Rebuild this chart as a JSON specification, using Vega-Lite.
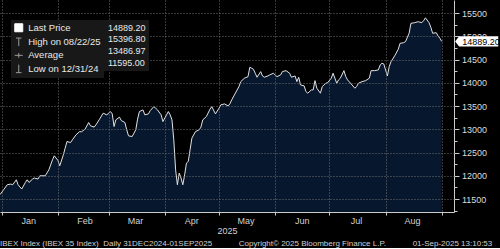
{
  "$schema": "https://vega.github.io/schema/vega-lite/v6.json",
  "width": 454,
  "height": 212,
  "padding": 0,
  "background": "#000000",
  "config": {
    "view": {"stroke": null},
    "font": "Liberation Sans",
    "axis": {"labelFont": "Liberation Sans", "titleFont": "Liberation Sans"},
    "legend": {"labelFont": "Liberation Sans"}
  },
  "title": {
    "text": "\u00a0IBEX Index (IBEX 35 Index)\u00a0\u00a0Daily 31DEC2024-01SEP2025\u00a0\u00a0\u00a0\u00a0\u00a0\u00a0\u00a0\u00a0\u00a0\u00a0\u00a0\u00a0Copyright\u00a9 2025 Bloomberg Finance L.P.\u00a0\u00a0\u00a0\u00a0\u00a0\u00a0\u00a0\u00a0\u00a0\u00a0\u00a0\u00a001-Sep-2025 13:10:53",
    "orient": "bottom",
    "anchor": "start",
    "frame": "bounds",
    "font": "Liberation Sans",
    "fontSize": 8,
    "fontWeight": "normal",
    "color": "#d0d0d0",
    "offset": 5
  },
  "data": {
    "values": [
      {"date": "2024-12-31", "close": 11595},
      {"date": "2025-01-02", "close": 11700},
      {"date": "2025-01-04", "close": 11807},
      {"date": "2025-01-06", "close": 11822},
      {"date": "2025-01-07", "close": 11807},
      {"date": "2025-01-09", "close": 11914},
      {"date": "2025-01-10", "close": 11807},
      {"date": "2025-01-12", "close": 11715},
      {"date": "2025-01-14", "close": 11856},
      {"date": "2025-01-15", "close": 11914},
      {"date": "2025-01-16", "close": 11856},
      {"date": "2025-01-18", "close": 11929},
      {"date": "2025-01-19", "close": 11951},
      {"date": "2025-01-21", "close": 11929},
      {"date": "2025-01-22", "close": 12000},
      {"date": "2025-01-25", "close": 12000},
      {"date": "2025-01-27", "close": 12129},
      {"date": "2025-01-29", "close": 12344},
      {"date": "2025-01-30", "close": 12430},
      {"date": "2025-02-01", "close": 12329},
      {"date": "2025-02-02", "close": 12215},
      {"date": "2025-02-04", "close": 12451},
      {"date": "2025-02-05", "close": 12595},
      {"date": "2025-02-06", "close": 12737},
      {"date": "2025-02-08", "close": 12715},
      {"date": "2025-02-09", "close": 12773},
      {"date": "2025-02-11", "close": 12881},
      {"date": "2025-02-13", "close": 12951},
      {"date": "2025-02-14", "close": 12945},
      {"date": "2025-02-16", "close": 13003},
      {"date": "2025-02-18", "close": 13145},
      {"date": "2025-02-19", "close": 13074},
      {"date": "2025-02-21", "close": 13046},
      {"date": "2025-02-22", "close": 13095},
      {"date": "2025-02-24", "close": 13218},
      {"date": "2025-02-26", "close": 13346},
      {"date": "2025-02-28", "close": 13310},
      {"date": "2025-03-02", "close": 13381},
      {"date": "2025-03-03", "close": 13331},
      {"date": "2025-03-04", "close": 13059},
      {"date": "2025-03-05", "close": 13203},
      {"date": "2025-03-07", "close": 13261},
      {"date": "2025-03-08", "close": 13188},
      {"date": "2025-03-10", "close": 13145},
      {"date": "2025-03-11", "close": 12988},
      {"date": "2025-03-12", "close": 12859},
      {"date": "2025-03-14", "close": 12844},
      {"date": "2025-03-16", "close": 12988},
      {"date": "2025-03-17", "close": 13218},
      {"date": "2025-03-18", "close": 13381},
      {"date": "2025-03-20", "close": 13417},
      {"date": "2025-03-21", "close": 13310},
      {"date": "2025-03-23", "close": 13331},
      {"date": "2025-03-24", "close": 13402},
      {"date": "2025-03-26", "close": 13488},
      {"date": "2025-03-27", "close": 13454},
      {"date": "2025-03-28", "close": 13417},
      {"date": "2025-03-30", "close": 13310},
      {"date": "2025-03-31", "close": 13166},
      {"date": "2025-04-02", "close": 13310},
      {"date": "2025-04-03", "close": 13381},
      {"date": "2025-04-04", "close": 13310},
      {"date": "2025-04-05", "close": 13203},
      {"date": "2025-04-06", "close": 12773},
      {"date": "2025-04-07", "close": 12129},
      {"date": "2025-04-08", "close": 11807},
      {"date": "2025-04-09", "close": 12058},
      {"date": "2025-04-10", "close": 11951},
      {"date": "2025-04-11", "close": 11807},
      {"date": "2025-04-12", "close": 12022},
      {"date": "2025-04-13", "close": 12273},
      {"date": "2025-04-14", "close": 12307},
      {"date": "2025-04-15", "close": 12558},
      {"date": "2025-04-16", "close": 12810},
      {"date": "2025-04-18", "close": 12951},
      {"date": "2025-04-20", "close": 12988},
      {"date": "2025-04-21", "close": 13046},
      {"date": "2025-04-22", "close": 13203},
      {"date": "2025-04-24", "close": 13273},
      {"date": "2025-04-26", "close": 13432},
      {"date": "2025-04-27", "close": 13488},
      {"date": "2025-04-29", "close": 13331},
      {"date": "2025-05-01", "close": 13454},
      {"date": "2025-05-02", "close": 13525},
      {"date": "2025-05-04", "close": 13546},
      {"date": "2025-05-06", "close": 13503},
      {"date": "2025-05-07", "close": 13546},
      {"date": "2025-05-08", "close": 13632},
      {"date": "2025-05-10", "close": 13776},
      {"date": "2025-05-12", "close": 13918},
      {"date": "2025-05-13", "close": 14025},
      {"date": "2025-05-15", "close": 14098},
      {"date": "2025-05-17", "close": 14132},
      {"date": "2025-05-18", "close": 14334},
      {"date": "2025-05-19", "close": 14313},
      {"date": "2025-05-20", "close": 14291},
      {"date": "2025-05-21", "close": 14205},
      {"date": "2025-05-22", "close": 14119},
      {"date": "2025-05-24", "close": 14240},
      {"date": "2025-05-25", "close": 14147},
      {"date": "2025-05-26", "close": 14119},
      {"date": "2025-05-28", "close": 14147},
      {"date": "2025-05-29", "close": 14169},
      {"date": "2025-05-31", "close": 14205},
      {"date": "2025-06-02", "close": 14132},
      {"date": "2025-06-04", "close": 14169},
      {"date": "2025-06-05", "close": 14240},
      {"date": "2025-06-07", "close": 14261},
      {"date": "2025-06-09", "close": 14205},
      {"date": "2025-06-10", "close": 14119},
      {"date": "2025-06-12", "close": 14147},
      {"date": "2025-06-13", "close": 14025},
      {"date": "2025-06-14", "close": 14119},
      {"date": "2025-06-15", "close": 13954},
      {"date": "2025-06-17", "close": 13933},
      {"date": "2025-06-18", "close": 13810},
      {"date": "2025-06-19", "close": 13776},
      {"date": "2025-06-21", "close": 13847},
      {"date": "2025-06-22", "close": 13847},
      {"date": "2025-06-23", "close": 14046},
      {"date": "2025-06-24", "close": 13883},
      {"date": "2025-06-26", "close": 13776},
      {"date": "2025-06-27", "close": 13918},
      {"date": "2025-06-29", "close": 13990},
      {"date": "2025-06-30", "close": 14003},
      {"date": "2025-07-02", "close": 14098},
      {"date": "2025-07-03", "close": 14205},
      {"date": "2025-07-05", "close": 13990},
      {"date": "2025-07-06", "close": 14061},
      {"date": "2025-07-07", "close": 14098},
      {"date": "2025-07-09", "close": 14261},
      {"date": "2025-07-10", "close": 14132},
      {"date": "2025-07-11", "close": 14061},
      {"date": "2025-07-13", "close": 13975},
      {"date": "2025-07-15", "close": 13883},
      {"date": "2025-07-16", "close": 13918},
      {"date": "2025-07-17", "close": 13990},
      {"date": "2025-07-19", "close": 14025},
      {"date": "2025-07-21", "close": 14046},
      {"date": "2025-07-23", "close": 14098},
      {"date": "2025-07-24", "close": 14261},
      {"date": "2025-07-26", "close": 14261},
      {"date": "2025-07-28", "close": 14276},
      {"date": "2025-07-29", "close": 14383},
      {"date": "2025-07-30", "close": 14420},
      {"date": "2025-07-31", "close": 14405},
      {"date": "2025-08-01", "close": 14276},
      {"date": "2025-08-02", "close": 14147},
      {"date": "2025-08-03", "close": 14347},
      {"date": "2025-08-04", "close": 14454},
      {"date": "2025-08-06", "close": 14577},
      {"date": "2025-08-08", "close": 14721},
      {"date": "2025-08-09", "close": 14849},
      {"date": "2025-08-11", "close": 14862},
      {"date": "2025-08-12", "close": 14884},
      {"date": "2025-08-14", "close": 15064},
      {"date": "2025-08-15", "close": 15279},
      {"date": "2025-08-17", "close": 15292},
      {"date": "2025-08-19", "close": 15313},
      {"date": "2025-08-21", "close": 15292},
      {"date": "2025-08-22", "close": 15335},
      {"date": "2025-08-23", "close": 15397},
      {"date": "2025-08-25", "close": 15292},
      {"date": "2025-08-26", "close": 15193},
      {"date": "2025-08-27", "close": 15064},
      {"date": "2025-08-29", "close": 15077},
      {"date": "2025-08-30", "close": 15006},
      {"date": "2025-08-31", "close": 14957},
      {"date": "2025-09-01", "close": 14889.2}
    ]
  },
  "resolve": {"axis": {"y": "independent"}},
  "layer": [
    {
      "mark": {"type": "area", "color": "#0a2241", "line": {"color": "#e2e2e2", "strokeWidth": 1}, "clip": true},
      "encoding": {
        "x": {
          "field": "date", "type": "temporal", "title": "2025",
          "scale": {"type": "utc", "domain": [{"year": 2024, "month": 12, "date": 31, "utc": true}, {"year": 2025, "month": 9, "date": 7, "hours": 19, "utc": true}]},
          "axis": {
            "title": "2025",
            "values": [
              {"year": 2025, "month": 1, "date": 1, "utc": true},
              {"year": 2025, "month": 2, "date": 1, "utc": true},
              {"year": 2025, "month": 3, "date": 1, "utc": true},
              {"year": 2025, "month": 4, "date": 1, "utc": true},
              {"year": 2025, "month": 5, "date": 1, "utc": true},
              {"year": 2025, "month": 6, "date": 1, "utc": true},
              {"year": 2025, "month": 7, "date": 1, "utc": true},
              {"year": 2025, "month": 8, "date": 1, "utc": true},
              {"year": 2025, "month": 9, "date": 1, "utc": true}
            ],
            "format": "%b",
            "labelExpr": "datum.label == 'Sep' ? '' : datum.label",
            "labelOffset": 26.5,
            "labelFlush": false,
            "labelOverlap": false,
            "labelFontSize": 9,
            "labelColor": "#d2d2d2",
            "labelPadding": 1,
            "tickSize": 3,
            "tickColor": "#cccccc",
            "domainColor": "#cccccc",
            "grid": true,
            "gridColor": "#6e6e6e",
            "gridDash": [1, 2],
            "zindex": 1,
            "titleFontSize": 9,
            "titleFontWeight": "normal",
            "titleColor": "#d2d2d2",
            "titlePadding": 1
          }
        },
        "y": {
          "field": "close", "type": "quantitative",
          "scale": {"domain": [11221, 15780], "nice": false, "zero": false},
          "axis": {
            "orient": "left", "title": null, "labels": false, "ticks": false, "domain": false,
            "grid": true, "gridColor": "#6e6e6e", "gridDash": [1, 2], "zindex": 1,
            "values": [11500, 12000, 12500, 13000, 13500, 14000, 14500, 15000, 15500]
          }
        }
      }
    },
    {
      "transform": [{"filter": "datum.close == 14889.2"}],
      "mark": {"type": "point", "shape": "M-0.98,0L-0.8,-0.23L0.98,-0.23L0.98,0.23L-0.8,0.23Z", "size": 1936, "filled": true, "fill": "#ffffff", "opacity": 1, "strokeWidth": 0, "xOffset": 35},
      "encoding": {
        "x": {"field": "date", "type": "temporal", "title": "2025"},
        "y": {
          "field": "close", "type": "quantitative",
          "axis": {
            "orient": "right", "title": null,
            "values": [11250, 11500, 11750, 12000, 12250, 12500, 12750, 13000, 13250, 13500, 13750, 14000, 14250, 14500, 14750, 15000, 15250, 15500],
            "format": "d",
            "labelExpr": "datum.value % 500 == 0 ? datum.label : ''",
            "labelOverlap": false,
            "labelFontSize": 9,
            "labelColor": "#dcdcdc",
            "labelPadding": 2.5,
            "tickSize": {"condition": {"test": "datum.value % 500 == 0", "value": 5}, "value": 3},
            "tickColor": "#cccccc",
            "domainColor": "#cccccc",
            "grid": false,
            "zindex": 0
          }
        }
      }
    },
    {
      "transform": [{"filter": "datum.close == 14889.2"}],
      "mark": {"type": "text", "align": "left", "baseline": "middle", "dx": 20.5, "dy": 0.5, "fontSize": 9, "color": "#000000", "font": "Liberation Sans"},
      "encoding": {
        "x": {"field": "date", "type": "temporal", "title": "2025"},
        "y": {"field": "close", "type": "quantitative", "axis": null},
        "text": {"field": "close", "type": "quantitative", "format": ".2f"}
      }
    },
    {
      "data": {"values": [{"series": "Last Price"}, {"series": "High on 08/22/25"}, {"series": "Average"}, {"series": "Low on 12/31/24"}]},
      "mark": {"type": "point", "opacity": 0},
      "encoding": {
        "shape": {
          "field": "series", "type": "nominal",
          "scale": {
            "domain": ["Last Price", "High on 08/22/25", "Average", "Low on 12/31/24"],
            "range": [
              "square",
              "M-0.7,-1H0.7M0,-1V1",
              "M-1,0H1M0,-0.6V0.6",
              "M0,-1V1M-0.7,1H0.7"
            ]
          },
          "legend": {
            "title": null, "orient": "none", "direction": "vertical", "legendX": 11, "legendY": 20,
            "padding": 3, "symbolSize": 64, "symbolStrokeWidth": 1, "symbolOpacity": 1,
            "labelFontSize": 9.5, "labelColor": "#e8e8e8", "labelOffset": 4.7, "rowPadding": 1.3,
            "fillColor": "#181818", "zindex": 3
          }
        },
        "fill": {
          "field": "series", "type": "nominal",
          "scale": {"domain": ["Last Price", "High on 08/22/25", "Average", "Low on 12/31/24"], "range": ["#ffffff", "transparent", "transparent", "transparent"]}
        },
        "stroke": {
          "field": "series", "type": "nominal",
          "scale": {"domain": ["Last Price", "High on 08/22/25", "Average", "Low on 12/31/24"], "range": ["#ffffff", "#9a9a9a", "#9a9a9a", "#9a9a9a"]}
        }
      }
    },
    {
      "data": {"values": [{"val": "14889.20"}, {"val": "15396.80"}, {"val": "13486.97"}, {"val": "11595.00"}]},
      "mark": {"type": "point", "opacity": 0},
      "encoding": {
        "color": {
          "field": "val", "type": "nominal",
          "scale": {"domain": ["14889.20", "15396.80", "13486.97", "11595.00"], "range": ["#000000", "#000000", "#000000", "#000000"]},
          "legend": {
            "title": null, "orient": "none", "direction": "vertical", "legendX": 96, "legendY": 20,
            "padding": 3, "symbolSize": 0, "symbolOpacity": 0, "symbolStrokeWidth": 0,
            "labelFontSize": 9, "labelColor": "#e8e8e8", "labelOffset": 0, "rowPadding": 1.8,
            "fillColor": "#181818", "zindex": 2
          }
        }
      }
    }
  ]
}
